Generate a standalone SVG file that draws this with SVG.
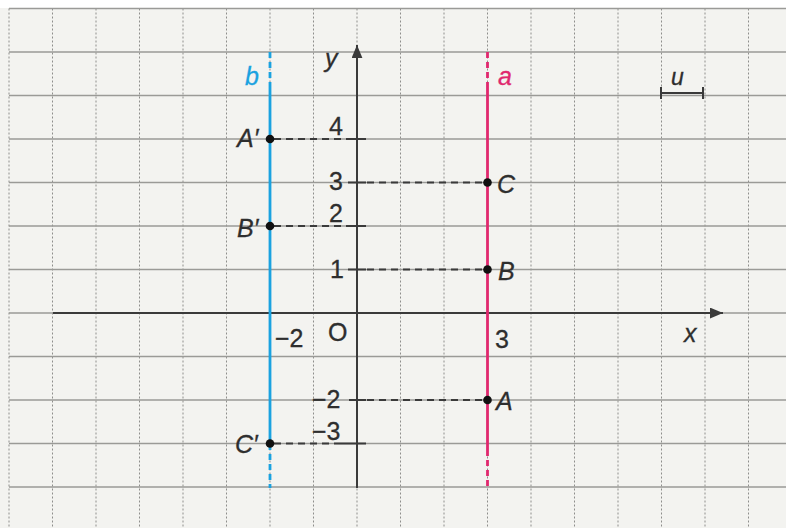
<svg xmlns="http://www.w3.org/2000/svg" width="786" height="528" viewBox="0 0 786 528">
<defs>
<style>
.gv{stroke:#8e8e8c;stroke-width:1;stroke-dasharray:2 2;fill:none}
.gh{stroke:#9a9a97;stroke-width:1.3;fill:none}
.ax{stroke:#3a3a3a;stroke-width:2;fill:none}
.dash{stroke:#3a3a3a;stroke-width:2;stroke-dasharray:7 5;fill:none}
.tick{stroke:#3a3a3a;stroke-width:2;fill:none}
.t{font-family:"Liberation Sans",Arial,sans-serif;font-size:25px;fill:#2e2e2e;stroke:#2e2e2e;stroke-width:0.3}
.it{font-style:italic}
.dot{fill:#111}
.blue{stroke:#1aa2e0;stroke-width:2.8;fill:none}
.red{stroke:#e0286e;stroke-width:2.8;fill:none}
</style>
<marker id="arr" viewBox="0 0 12 10" refX="12" refY="5" markerWidth="13" markerHeight="11" markerUnits="userSpaceOnUse" orient="auto">
<path d="M0,0 L12,5 L0,10 Z" fill="#3a3a3a"/>
</marker>
</defs>
<rect width="786" height="528" fill="#f3f3f0"/>
<rect width="786" height="8" fill="#ffffff"/>
<g id="grid">
<path class="gv" d="M9,8.5V528M52.5,8.5V528M96,8.5V528M139.5,8.5V528M183,8.5V528M226.5,8.5V528M270,8.5V528M313.5,8.5V528M357,8.5V528M400.5,8.5V528M444,8.5V528M487.5,8.5V528M531,8.5V528M574.5,8.5V528M618,8.5V528M661.5,8.5V528M705,8.5V528M748.5,8.5V528"/>
<path class="gh" d="M9,8.5H786M9,52H786M9,95.5H786M9,139H786M9,182.5H786M9,226H786M9,269.5H786M9,313H786M9,356.5H786M9,400H786M9,443.5H786M9,487H786"/>
</g>
<g id="connectors">
<line class="ax" x1="53" y1="313" x2="723" y2="313" marker-end="url(#arr)"/>
<line class="ax" x1="357" y1="488" x2="357" y2="45" marker-end="url(#arr)"/>
<path class="dash" d="M274,139H347M274,226H347M274,443.5H340M367,182.5H483M367,269.5H483M367,400H483"/>
<path class="tick" d="M347,139H366M347,226H366M348,182.5H366M348,269.5H366M349,400H366M340,443.5H366"/>
<path class="blue" d="M270,87V444"/>
<path class="blue" stroke-dasharray="6 4" d="M270,52V87M270,444V488"/>
<path class="red" d="M487.5,88V450"/>
<path class="red" stroke-dasharray="6 4" d="M487.5,52V88M487.5,450V488"/>
<path class="tick" d="M661,93H703M661,87V99M703,87V99"/>
</g>
<g id="line-b"><text class="t it" x="245" y="85" style="fill:#1aa2e0;stroke:#1aa2e0">b</text></g>
<g id="line-a"><text class="t it" x="498" y="85" style="fill:#e0286e;stroke:#e0286e">a</text></g>
<g id="point-A1"><circle class="dot" cx="270" cy="139" r="4.3"/><text class="t it" x="237" y="147">A′</text></g>
<g id="point-B1"><circle class="dot" cx="270" cy="226" r="4.3"/><text class="t it" x="237" y="237">B′</text></g>
<g id="point-C1"><circle class="dot" cx="270" cy="443.5" r="4.3"/><text class="t it" x="235" y="453">C′</text></g>
<g id="point-C"><circle class="dot" cx="487.5" cy="182.5" r="4.3"/><text class="t it" x="497" y="193">C</text></g>
<g id="point-B"><circle class="dot" cx="487.5" cy="269.5" r="4.3"/><text class="t it" x="498" y="280">B</text></g>
<g id="point-A"><circle class="dot" cx="487.5" cy="400" r="4.3"/><text class="t it" x="496" y="410">A</text></g>
<g id="labels">
<text class="t it" x="325" y="67">y</text>
<text class="t it" x="684" y="342">x</text>
<text class="t it" x="671" y="85" style="font-size:23px">u</text>
<text class="t" x="328" y="341">O</text>
<text class="t" x="329" y="135">4</text>
<text class="t" x="329" y="190">3</text>
<text class="t" x="329" y="222">2</text>
<text class="t" x="330" y="278">1</text>
<text class="t" x="312" y="408">−2</text>
<text class="t" x="312" y="440">−3</text>
<text class="t" x="275" y="347">−2</text>
<text class="t" x="495" y="348">3</text>
</g>
</svg>
